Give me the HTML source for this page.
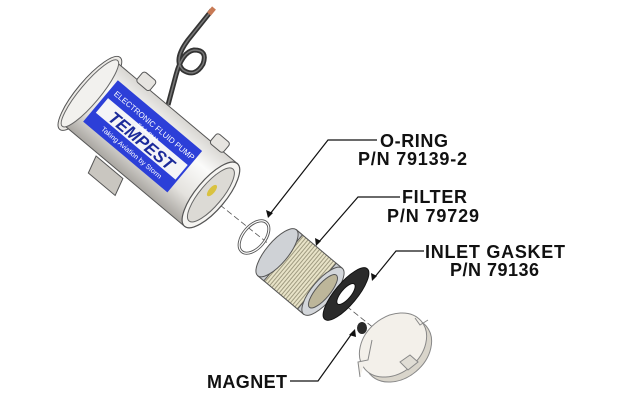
<!DOCTYPE html>
<html><head><meta charset="utf-8"><style>
html,body{margin:0;padding:0;background:#fff;width:623px;height:413px;overflow:hidden}
text{font-family:"Liberation Sans",Arial,sans-serif;font-weight:bold;fill:#111}
</style></head><body>
<svg width="623" height="413" viewBox="0 0 623 413" xmlns="http://www.w3.org/2000/svg">
<defs>
<linearGradient id="cyl" x1="0" y1="0" x2="0" y2="1">
<stop offset="0" stop-color="#d8d6d2"/><stop offset="0.3" stop-color="#fbfbfa"/><stop offset="0.7" stop-color="#e4e2de"/><stop offset="1" stop-color="#a9a6a1"/>
</linearGradient>
<pattern id="pleat" width="3" height="40" patternUnits="userSpaceOnUse"><rect width="3" height="40" fill="#e8e3c8"/><rect width="1" height="40" fill="#9f9a80"/></pattern>
</defs>

<line x1="220" y1="205" x2="395" y2="345" stroke="#555" stroke-width="0.8" stroke-dasharray="6,3"/>

<!-- wire -->
<path d="M168 105 L176 75 Q182 52 194 50 Q208 50 203 64 Q195 78 183 70 Q173 60 188 40 L212 10" fill="none" stroke="#333" stroke-width="5"/>
<path d="M168 105 L176 75 Q182 52 194 50 Q208 50 203 64 Q195 78 183 70 Q173 60 188 40 L212 10" fill="none" stroke="#777" stroke-width="1.5"/>
<line x1="209" y1="14" x2="214" y2="8" stroke="#c87a55" stroke-width="5"/>

<!-- pump -->
<g transform="translate(155,148) rotate(40)">
  <path d="M-40 44 L-5 44 L0 62 L-35 62 Z" fill="#c9c6c0" stroke="#555" stroke-width="1"/>
  <ellipse cx="-85" cy="0" rx="13" ry="47" fill="#eceae6" stroke="#555" stroke-width="1"/>
  <rect x="-85" y="-41" width="158" height="82" fill="url(#cyl)" stroke="#555" stroke-width="1"/>
  <ellipse cx="-85" cy="0" rx="10" ry="43" fill="#f2f1ee" stroke="#666" stroke-width="1"/>
  <rect x="-72" y="-28" width="110" height="54" fill="#2c3fd8"/>
  <rect x="-68" y="-8" width="104" height="19" fill="#f4f4f7"/>
  <text x="-15" y="-14" font-size="8" text-anchor="middle" style="fill:#fff;font-weight:normal">ELECTRONIC FLUID PUMP</text>
  <text x="-15" y="-5" font-size="6" text-anchor="middle" style="fill:#fff;font-weight:normal">FAA-PMA</text>
  <text x="-15" y="9" font-size="17" font-style="italic" text-anchor="middle" style="fill:#1b2a9a">TEMPEST</text>
  <text x="-15" y="21" font-size="7" text-anchor="middle" style="fill:#fff;font-weight:normal">Taking Aviation by Storm</text>
  <rect x="-58" y="-52" width="17" height="13" rx="3" fill="#e6e4e0" stroke="#555"/>
  <rect x="38" y="-52" width="17" height="13" rx="3" fill="#e6e4e0" stroke="#555"/>
  <ellipse cx="73" cy="0" rx="15" ry="41" fill="#f5f4f1" stroke="#555" stroke-width="1.2"/>
  <ellipse cx="73" cy="0" rx="11" ry="34" fill="#dcdad5" stroke="#666" stroke-width="1"/>
  <ellipse cx="71" cy="-4" rx="3" ry="7" fill="#d9c240"/>
</g>

<!-- o-ring -->
<ellipse cx="254" cy="237" rx="11" ry="19" transform="rotate(40 254 237)" fill="none" stroke="#555" stroke-width="3"/>
<ellipse cx="254" cy="237" rx="11" ry="19" transform="rotate(40 254 237)" fill="none" stroke="#fff" stroke-width="1.2"/>

<!-- filter -->
<g transform="translate(300,272) rotate(40)">
  <rect x="-30" y="-30" width="60" height="60" fill="url(#pleat)" stroke="#555"/>
  <rect x="-30" y="-30" width="8" height="60" fill="#c9ccd0" stroke="#555"/>
  <rect x="22" y="-30" width="8" height="60" fill="#c9ccd0" stroke="#555"/>
  <ellipse cx="-30" cy="0" rx="11" ry="30" fill="#cfd2d6" stroke="#555"/>
  <ellipse cx="30" cy="0" rx="11" ry="30" fill="#d3d6da" stroke="#555"/>
  <ellipse cx="30" cy="0" rx="7" ry="21" fill="#bdb69a" stroke="#555"/>
</g>

<!-- gasket -->
<g transform="translate(346,294) rotate(40)">
  <ellipse rx="11" ry="33" fill="#2b2b2b" stroke="#111"/>
  <ellipse rx="5" ry="13" fill="#fff" stroke="#111"/>
</g>
<ellipse cx="362" cy="328" rx="5" ry="6" fill="#2a2a2a"/>

<!-- cap -->
<ellipse cx="398" cy="350" rx="37" ry="28" transform="rotate(-40 398 350)" fill="#d9d5cb" stroke="#888"/>
<ellipse cx="393" cy="345" rx="37" ry="28" transform="rotate(-40 393 345)" fill="#f3f0ea" stroke="#888"/>
<path d="M360 377 L358 362 L368 360 L372 340" fill="#f3f0ea" stroke="#888"/>
<path d="M415 318 L420 325 L428 320" fill="none" stroke="#888"/>
<path d="M400 362 L410 355 L418 362 L408 370 Z" fill="#e0ddd5" stroke="#888"/>

<!-- leaders -->
<g stroke="#111" stroke-width="1.2" fill="none">
<path d="M377 140 L328 140 L270 214"/>
<path d="M400 197 L358 197 L318 243"/>
<path d="M424 251 L396 251 L374 278"/>
<path d="M290 381 L318 381 L353 332"/>
</g>
<g fill="#111">
<path d="M268 218 L266 210 L273 213 Z"/>
<path d="M316 246 L315 238 L321 241 Z"/>
<path d="M372 281 L371 273 L377 276 Z"/>
<path d="M355 329 L349 335 L356 337 Z"/>
</g>

<text x="380" y="147" font-size="18" textLength="68">O-RING</text>
<text x="358" y="165" font-size="18" textLength="109">P/N 79139-2</text>
<text x="402" y="203" font-size="18" textLength="65">FILTER</text>
<text x="387" y="222" font-size="18" textLength="92">P/N 79729</text>
<text x="425" y="258" font-size="18" textLength="140">INLET GASKET</text>
<text x="450" y="276" font-size="18" textLength="89">P/N 79136</text>
<text x="207" y="388" font-size="18" textLength="80">MAGNET</text>
</svg>
</body></html>
